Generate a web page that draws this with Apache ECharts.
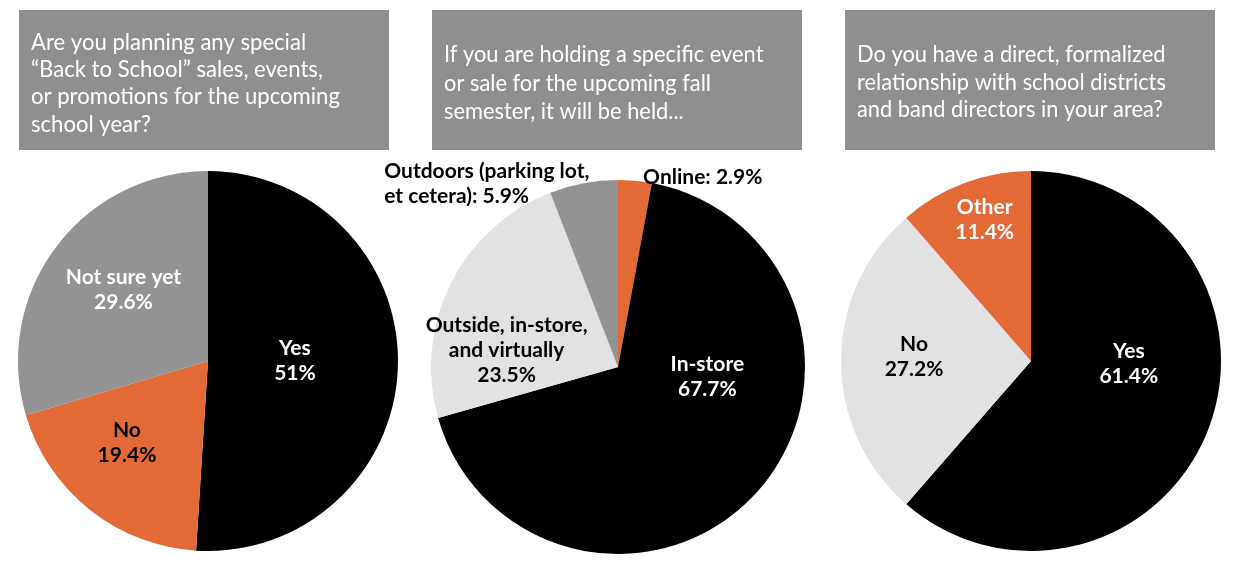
<!DOCTYPE html>
<html>
<head>
<meta charset="utf-8">
<script src="https://cdn.jsdelivr.net/npm/echarts@6/dist/echarts.min.js"></script>
<style>
  html, body { margin: 0; padding: 0; background: #fff; }
  #main { width: 1234px; height: 582px; }
</style>
</head>
<body>
<div id="main"></div>
<script>
// questions
const q1Title = 'Are you planning any special\n\u201CBack to School\u201D sales, events,\nor promotions for the upcoming\nschool year?';
const q2Title = 'If you are holding a specific event\nor sale for the upcoming fall\nsemester, it will be held...';
const q3Title = 'Do you have a direct, formalized\nrelationship with school districts\nand band directors in your area?';

// answers (percent)
const q1Names = ['Yes', 'No', 'Not sure yet'];
const q1Values = [51, 19.4, 29.6];

const q2Names = ['Online', 'In-store', 'Outside, in-store,\nand virtually', 'Outdoors (parking lot,\net cetera)'];
const q2Values = [2.9, 67.7, 23.5, 5.9];

const q3Names = ['Yes', 'No', 'Other'];
const q3Values = [61.4, 27.2, 11.4];

const BLACK = '#000000';
const ORANGE = '#e26a36';
const GRAY = '#939393';
const LIGHT = '#e2e2e2';
const BOX = '#8e8f90';

const chartConfig = {
    font: 'Lato',
    // slice colours / label colours / label shifts per pie
    pies: [
        {
            center: [208, 361],
            radius: 190,
            colors: [BLACK, ORANGE, GRAY],
            textColors: ['#fff', '#000', '#fff'],
            shift: [[-11, -3], [-20, 5], [-6, -13]]
        },
        {
            center: [618, 367],
            radius: 187,
            colors: [ORANGE, BLACK, LIGHT, GRAY],
            textColors: ['#000', '#fff', '#000', '#000'],
            shift: [[76, -94], [18, -55], [-25, 26], [-216, -88]],
            colon: [true, false, false, true]
        },
        {
            center: [1031, 361],
            radius: 190,
            colors: [BLACK, LIGHT, ORANGE],
            textColors: ['#fff', '#000', '#fff'],
            shift: [[6, -32], [-19, -4], [-12, -49]]
        }
    ],
    titleBox(x, text, textY, fontSize, lineHeight, scaleX) {
        return {
            type: 'group',
            left: x,
            top: 10,
            children: [
                { type: 'rect', shape: { x: 0, y: 0, width: 370, height: 140 }, style: { fill: BOX } },
                {
                    type: 'text',
                    x: 12,
                    y: textY,
                    scaleX: scaleX,
                    style: {
                        text: text,
                        fill: '#fff',
                        font: fontSize + 'px ' + this.font,
                        lineHeight: lineHeight,
                        verticalAlign: 'top'
                    }
                }
            ]
        };
    },
    pieSeries(idx, names, values) {
        let cfg = this.pies[idx];
        let data = [];
        for (let i = 0; i < names.length; i++) {
            data.push({
                name: names[i],
                value: values[i],
                itemStyle: { color: cfg.colors[i] },
                label: { color: cfg.textColors[i] }
            });
        }
        return {
            type: 'pie',
            center: cfg.center,
            radius: cfg.radius,
            startAngle: 90,
            clockwise: true,
            silent: true,
            animation: false,
            label: {
                show: true,
                position: 'inside',
                fontFamily: this.font,
                fontWeight: 'bold',
                fontSize: 21,
                lineHeight: 25,
                formatter: function (p) {
                    if (cfg.colon && cfg.colon[p.dataIndex]) {
                        return p.name + ': ' + p.value + '%';
                    }
                    return p.name + '\n' + p.value + '%';
                }
            },
            labelLine: { show: false },
            labelLayout: function (p) {
                let s = cfg.shift[p.dataIndex];
                let out = { dx: s[0], dy: s[1] };
                if (cfg.colon && cfg.colon[p.dataIndex] && p.dataIndex === names.length - 1) {
                    out.align = 'left';
                }
                return out;
            },
            data: data
        };
    }
};

let chart = echarts.init(document.getElementById('main'));
chart.setOption({
    animation: false,
    graphic: [
        chartConfig.titleBox(19, q1Title, 18.5, 23.5, 27.3, 0.94),
        chartConfig.titleBox(432, q2Title, 30.5, 24, 28.5, 0.91),
        chartConfig.titleBox(845, q3Title, 31, 24, 27.5, 0.91)
    ],
    series: [
        chartConfig.pieSeries(0, q1Names, q1Values),
        chartConfig.pieSeries(1, q2Names, q2Values),
        chartConfig.pieSeries(2, q3Names, q3Values)
    ]
});
window.addEventListener('resize', function () { chart.resize(); });
</script>
</body>
</html>
